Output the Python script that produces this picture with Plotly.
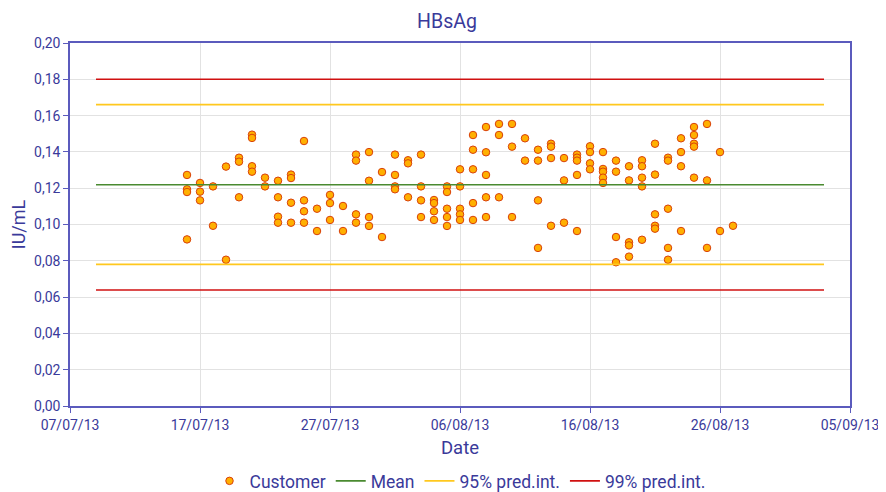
import plotly.graph_objects as go

# ---- data ----
day_values = {
    "2013-07-16": [0.1273, 0.1194, 0.1179, 0.0918],
    "2013-07-17": [0.1229, 0.1181, 0.1133],
    "2013-07-18": [0.1210, 0.0993],
    "2013-07-19": [0.1319, 0.0806],
    "2013-07-20": [0.1368, 0.1346, 0.1150],
    "2013-07-21": [0.1495, 0.1477, 0.1321, 0.1291],
    "2013-07-22": [0.1258, 0.1210],
    "2013-07-23": [0.1241, 0.1150, 0.1043, 0.1010],
    "2013-07-24": [0.1275, 0.1256, 0.1120, 0.1010],
    "2013-07-25": [0.1460, 0.1133, 0.1073, 0.1010],
    "2013-07-26": [0.1087, 0.0964],
    "2013-07-27": [0.1163, 0.1118, 0.1025],
    "2013-07-28": [0.1102, 0.0964],
    "2013-07-29": [0.1385, 0.1352, 0.1056, 0.1010],
    "2013-07-30": [0.1399, 0.1241, 0.1041, 0.0992],
    "2013-07-31": [0.1289, 0.0931],
    "2013-08-01": [0.1385, 0.1273, 0.1210, 0.1194],
    "2013-08-02": [0.1354, 0.1337, 0.1150],
    "2013-08-03": [0.1385, 0.1210, 0.1133, 0.1041],
    "2013-08-04": [0.1135, 0.1118, 0.1073, 0.1025],
    "2013-08-05": [0.1210, 0.1179, 0.1087, 0.1041, 0.0992],
    "2013-08-06": [0.1304, 0.1210, 0.1087, 0.1056, 0.1025],
    "2013-08-07": [0.1493, 0.1412, 0.1304, 0.1118, 0.1025],
    "2013-08-08": [0.1537, 0.1398, 0.1273, 0.1150, 0.1041],
    "2013-08-09": [0.1554, 0.1493, 0.1150],
    "2013-08-10": [0.1554, 0.1429, 0.1041],
    "2013-08-11": [0.1475, 0.1352],
    "2013-08-12": [0.1412, 0.1352, 0.1133, 0.0871],
    "2013-08-13": [0.1445, 0.1429, 0.1366, 0.0993],
    "2013-08-14": [0.1366, 0.1243, 0.1010],
    "2013-08-15": [0.1385, 0.1368, 0.1352, 0.1273, 0.0964],
    "2013-08-16": [0.1431, 0.1399, 0.1337, 0.1304],
    "2013-08-17": [0.1399, 0.1306, 0.1291, 0.1258, 0.1229],
    "2013-08-18": [0.1352, 0.1291, 0.0931, 0.0792],
    "2013-08-19": [0.1321, 0.1243, 0.0902, 0.0885, 0.0823],
    "2013-08-20": [0.1354, 0.1321, 0.1258, 0.1210, 0.0916],
    "2013-08-21": [0.1445, 0.1275, 0.1056, 0.0993, 0.0977],
    "2013-08-22": [0.1368, 0.1352, 0.1087, 0.0871, 0.0806],
    "2013-08-23": [0.1475, 0.1399, 0.1321, 0.0964],
    "2013-08-24": [0.1537, 0.1493, 0.1445, 0.1429, 0.1258],
    "2013-08-25": [0.1554, 0.1243, 0.0871],
    "2013-08-26": [0.1399, 0.0964],
    "2013-08-27": [0.0993],
}

limit_dates = ["2013-07-09", "2013-09-03"]
mean_value = 0.1219
pi95_low, pi95_high = 0.0780, 0.1660
pi99_low, pi99_high = 0.0639, 0.1800

x_range = ["2013-07-07", "2013-09-05"]
y_ticks = [0.00, 0.02, 0.04, 0.06, 0.08, 0.10, 0.12, 0.14, 0.16, 0.18, 0.20]

# ---- build ----
cust_x, cust_y = [], []
for d, vals in day_values.items():
    for v in vals:
        cust_x.append(d)
        cust_y.append(v)

TXT = "#3a3a9a"
AX = "#5b5bbd"
GRID = "#e2e2e2"
FONT = "Roboto, Liberation Sans, sans-serif"

# page body has an 8px default margin: figure is sized/offset to compensate
W, H = 878, 484

fig = go.Figure()
fig.add_trace(go.Scatter(
    x=cust_x, y=cust_y, mode="markers", name="Customer",
    marker=dict(size=7.5, color="#FFB000", line=dict(color="#D9400A", width=1)),
))
fig.add_trace(go.Scatter(x=limit_dates, y=[mean_value] * 2, mode="lines", name="Mean",
                         line=dict(color="#4a8a30", width=1.6)))
fig.add_trace(go.Scatter(x=limit_dates, y=[pi95_low] * 2, mode="lines", name="95% pred.int.",
                         line=dict(color="#FFC81E", width=1.8), legendgroup="95"))
fig.add_trace(go.Scatter(x=limit_dates, y=[pi95_high] * 2, mode="lines", showlegend=False,
                         line=dict(color="#FFC81E", width=1.8), legendgroup="95"))
fig.add_trace(go.Scatter(x=limit_dates, y=[pi99_low] * 2, mode="lines", name="99% pred.int.",
                         line=dict(color="#D01010", width=1.6), legendgroup="99"))
fig.add_trace(go.Scatter(x=limit_dates, y=[pi99_high] * 2, mode="lines", showlegend=False,
                         line=dict(color="#D01010", width=1.6), legendgroup="99"))

fig.update_layout(
    width=W, height=H,
    margin=dict(l=62, r=36, t=35, b=86, autoexpand=False),
    plot_bgcolor="white", paper_bgcolor="white",
    separators=",.",
    font=dict(family=FONT, color=TXT, size=14),
    title=dict(text="HBsAg", x=0.5, xanchor="center", y=1 - 13 / H, yanchor="middle",
               font=dict(size=19.5, color=TXT, family=FONT)),
    showlegend=True,
    legend=dict(orientation="h", x=0.5, xanchor="center", y=-0.157, yanchor="top",
                font=dict(size=17.5, color=TXT, family=FONT),
                itemwidth=30, traceorder="normal"),
)
fig.update_xaxes(
    type="date", range=x_range, tick0="2013-07-07", dtick=10 * 24 * 3600 * 1000,
    tickformat="%d/%m/%y", showgrid=True, gridcolor=GRID, gridwidth=1,
    showline=True, linecolor=AX, linewidth=1.5, mirror=True,
    ticks="outside", ticklen=5, tickcolor=AX, tickfont=dict(size=14, color=TXT),
    title=dict(text="Date", font=dict(size=18.5, color=TXT), standoff=10),
    zeroline=False, automargin=False,
)
fig.update_yaxes(
    range=[0, 0.2], tickvals=y_ticks, tickformat=".2f",
    showgrid=True, gridcolor=GRID, gridwidth=1,
    showline=True, linecolor=AX, linewidth=1.5, mirror=True,
    ticks="outside", ticklen=5, tickcolor=AX, tickfont=dict(size=14, color=TXT),
    title=dict(text="IU/mL", font=dict(size=18, color=TXT), standoff=6),
    zeroline=False, automargin=False,
)

fig.write_html("out.html")
